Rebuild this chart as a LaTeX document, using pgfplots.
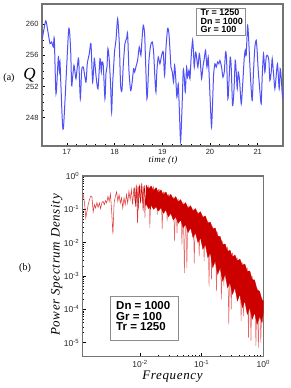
\documentclass[border=0pt]{standalone}
\usepackage{pgfplots}
\pgfplotsset{compat=1.18}
\usepackage{fontspec}
\setmainfont{Liberation Sans}
\newfontfamily\tms{Liberation Serif}
\newfontfamily\tmsls[LetterSpace=5]{Liberation Serif}
\definecolor{qblue}{RGB}{80,80,248}
\definecolor{darkred}{RGB}{205,0,0}
\definecolor{spikered}{RGB}{230,100,100}
\definecolor{lowred}{RGB}{222,60,60}
\begin{document}
\begin{tikzpicture}[x=1pt,y=1pt]
\useasboundingbox (0,0) rectangle (291,388);
% ---------------- (a) time series ----------------
\begin{axis}[at={(42pt,242pt)}, anchor=south west, scale only axis,
  width=241pt, height=142pt,
  xmin=16.48, xmax=21.53, ymin=244.35, ymax=262.6,
  xtick={17,18,19,20,21}, ytick={248,252,256,260},
  minor x tick num=4, minor y tick num=3,
  tick align=inside, tick pos=left,
  axis line style={draw=black!55, line width=1.1pt},
  major tick length=3pt, minor tick length=1.6pt,
  every tick/.style={black, line width=0.5pt},
  tick label style={font=\fontsize{7.5}{8}\selectfont, text=black!85},
  /pgf/number format/assume math mode=true]
\addplot[color=qblue, line width=1pt, smooth, tension=0.4] coordinates {
(16.487,258.15)(16.557,260.43)(16.599,259.23)(16.648,257.51)(16.682,257.72)(16.717,257.08)
(16.738,258.15)(16.773,251.05)(16.822,255.78)(16.843,254.06)(16.857,255.14)(16.878,251.91)
(16.927,246.54)(17.038,259.23)(17.080,256.65)(17.101,252.13)(17.122,253.20)(17.150,254.71)
(17.171,253.85)(17.192,252.99)(17.220,254.49)(17.248,255.57)(17.283,250.41)(17.311,254.06)
(17.346,254.49)(17.401,252.56)(17.429,254.92)(17.471,256.22)(17.506,257.51)(17.541,252.56)
(17.576,255.57)(17.611,253.42)(17.653,251.70)(17.695,255.57)(17.723,253.85)(17.737,255.14)
(17.764,254.71)(17.799,250.41)(17.820,253.63)(17.841,254.49)(17.862,256.86)(17.890,255.35)
(17.918,252.13)(17.939,248.69)(17.960,252.34)(17.981,254.49)(18.002,256.65)(18.030,257.94)
(18.065,260.73)(18.100,257.51)(18.127,252.13)(18.155,251.48)(18.183,254.71)(18.218,257.51)
(18.253,258.15)(18.274,258.80)(18.302,254.06)(18.337,251.48)(18.365,252.34)(18.400,254.28)
(18.421,253.85)(18.456,254.71)(18.484,255.35)(18.518,257.08)(18.553,256.00)(18.574,257.94)
(18.602,259.87)(18.630,258.80)(18.651,255.14)(18.679,250.41)(18.700,252.34)(18.721,255.35)
(18.756,257.29)(18.791,257.72)(18.819,256.43)(18.847,252.99)(18.868,251.27)(18.888,254.06)
(18.916,255.78)(18.951,254.92)(18.986,256.00)(19.021,256.43)(19.049,253.42)(19.077,256.86)
(19.112,259.44)(19.140,258.80)(19.168,256.00)(19.182,254.49)(19.210,253.85)(19.237,252.56)
(19.258,254.71)(19.279,253.42)(19.307,250.62)(19.335,252.34)(19.356,249.33)(19.384,244.95)
(19.412,248.90)(19.440,254.06)(19.461,253.20)(19.482,251.27)(19.510,254.49)(19.531,253.20)
(19.559,254.06)(19.580,252.99)(19.608,256.00)(19.636,257.94)(19.656,256.22)(19.670,254.49)
(19.698,256.43)(19.719,255.78)(19.747,254.49)(19.775,256.22)(19.796,255.35)(19.824,252.99)
(19.852,254.49)(19.880,255.57)(19.908,256.65)(19.936,254.49)(19.963,255.78)(19.984,253.20)
(20.012,249.12)(20.033,246.75)(20.054,249.76)(20.075,253.42)(20.103,254.92)(20.131,254.49)
(20.159,255.14)(20.187,254.92)(20.208,255.35)(20.243,254.49)(20.271,253.20)(20.299,253.85)
(20.327,256.43)(20.347,255.57)(20.375,250.41)(20.396,252.34)(20.424,255.78)(20.445,254.49)
(20.473,249.55)(20.501,251.27)(20.529,255.35)(20.550,253.85)(20.571,251.70)(20.592,253.85)
(20.620,252.77)(20.655,249.76)(20.690,252.77)(20.717,255.57)(20.738,256.65)(20.759,256.00)
(20.787,259.87)(20.808,258.37)(20.836,254.71)(20.857,252.34)(20.885,250.19)(20.913,254.06)
(20.941,257.08)(20.969,257.94)(20.990,256.43)(21.011,254.06)(21.039,251.91)(21.073,249.76)
(21.094,253.20)(21.122,256.22)(21.150,253.85)(21.178,255.78)(21.206,256.00)(21.234,255.35)
(21.255,252.77)(21.283,253.85)(21.304,255.57)(21.332,253.63)(21.360,251.70)(21.388,253.42)
(21.415,254.92)(21.450,251.70)(21.471,254.28)(21.492,253.20)(21.520,250.62)(21.541,251.91)
};
\end{axis}
% ---------------- (b) power spectrum ----------------
\begin{axis}[at={(82.7pt,31.3pt)}, anchor=south west, scale only axis,
  width=180.6pt, height=180.7pt,
  xmode=log, ymode=log,
  xmin=1.175e-3, xmax=1, ymin=3.8e-6, ymax=1,
  xtick={0.01,0.1,1},
  xticklabels={10\textsuperscript{-2},10\textsuperscript{-1},10\textsuperscript{0}},
  ytick={1e-5,1e-4,1e-3,1e-2,1e-1,1},
  yticklabels={10\textsuperscript{-5},10\textsuperscript{-4},10\textsuperscript{-3},10\textsuperscript{-2},10\textsuperscript{-1},10\textsuperscript{0}},
  tick align=inside, tick pos=left,
  axis line style={draw=black!55, line width=1.1pt},
  major tick length=3.5pt, minor tick length=1.8pt,
  every tick/.style={black, line width=0.5pt},
  tick label style={font=\fontsize{8.5}{9}\selectfont, text=black!85}]
% low-frequency part
\addplot[color=lowred, line width=0.55pt] coordinates {
(1.148e-3,0.2512)(1.202e-3,0.2754)(1.259e-3,0.1549)(1.318e-3,0.05495)(1.380e-3,0.0871)
(1.445e-3,0.1413)(1.514e-3,0.195)(1.585e-3,0.2512)(1.660e-3,0.2399)(1.738e-3,0.08318)
(1.820e-3,0.138)(1.905e-3,0.1096)(1.995e-3,0.1585)(2.089e-3,0.1148)(2.188e-3,0.1549)
(2.291e-3,0.1047)(2.399e-3,0.1585)(2.512e-3,0.1738)(2.630e-3,0.138)(2.754e-3,0.182)
(2.884e-3,0.1549)(3.020e-3,0.2455)(3.162e-3,0.1738)(3.311e-3,0.2884)(3.467e-3,0.0871)
(3.631e-3,0.0182)(3.802e-3,0.1585)(3.981e-3,0.2455)(4.169e-3,0.3311)(4.365e-3,0.1738)
(4.571e-3,0.2754)(4.786e-3,0.1549)(5.012e-3,0.2188)(5.248e-3,0.1096)(5.495e-3,0.2188)
(5.754e-3,0.138)(6.026e-3,0.2754)(6.310e-3,0.1549)(6.607e-3,0.3467)(6.918e-3,0.195)
(7.244e-3,0.389)(7.586e-3,0.138)(7.943e-3,0.4365)(8.318e-3,0.1738)(8.710e-3,0.5495)
(9.120e-3,0.0389)(9.550e-3,0.4898)(1.000e-2,0.2188)
};
% spikes over the whole range
\addplot[color=spikered, line width=0.5pt] coordinates {
(1.000e-2,0.2188)
(1.047e-2,0.6166)(1.096e-2,0.1738)(1.148e-2,0.4898)(1.202e-2,0.05495)(1.259e-2,0.5495)
(1.318e-2,0.1778)(1.380e-2,0.5248)(1.445e-2,0.02754)(1.514e-2,0.4786)(1.585e-2,0.1413)
(1.660e-2,0.5012)(1.738e-2,0.1122)(1.820e-2,0.4365)(1.905e-2,0.06918)(1.995e-2,0.3981)
(2.089e-2,0.1259)(2.188e-2,0.3802)(2.291e-2,0.02512)(2.399e-2,0.3388)(2.512e-2,0.1)
(2.630e-2,0.3162)(2.754e-2,0.04365)(2.884e-2,0.2818)(3.020e-2,0.07943)(3.162e-2,0.263)
(3.311e-2,0.0631)(3.467e-2,0.2399)(3.631e-2,0.01122)(3.802e-2,0.2291)(3.981e-2,0.0195)
(4.169e-2,0.2089)(4.365e-2,0.05012)(4.571e-2,0.182)(4.786e-2,0.00871)(5.012e-2,0.166)
(5.248e-2,1.230e-3)(5.495e-2,0.1514)(5.754e-2,1.738e-3)(6.026e-2,0.1318)(6.310e-2,0.02512)
(6.607e-2,0.1175)(6.918e-2,0.02818)(7.244e-2,0.1072)(7.586e-2,2.455e-3)(7.943e-2,0.0955)
(8.318e-2,0.01995)(8.710e-2,0.0871)(9.120e-2,3.890e-3)(9.550e-2,0.07586)(0.1000,0.01259)
(0.1047,0.06607)(0.1096,2.754e-3)(0.1148,0.05495)(0.1202,7.943e-3)(0.1259,0.04677)
(0.1318,4.898e-4)(0.1380,0.03802)(0.1445,7.943e-4)(0.1514,0.03162)(0.1585,3.981e-3)
(0.1660,0.0263)(0.1738,3.548e-4)(0.1820,0.02089)(0.1905,2.512e-3)(0.1995,0.01585)
(0.2089,1.995e-4)(0.2188,0.01122)(0.2291,5.012e-4)(0.2399,8.913e-3)(0.2512,1.0e-3)
(0.2630,7.586e-3)(0.2754,3.548e-5)(0.2884,6.026e-3)(0.3020,1.0e-4)(0.3162,5.012e-3)
(0.3311,3.981e-4)(0.3467,4.169e-3)(0.3631,3.162e-4)(0.3802,3.548e-3)(0.3981,2.512e-4)
(0.4169,2.818e-3)(0.4365,4.467e-5)(0.4571,2.512e-3)(0.4786,6.310e-5)(0.5012,2.239e-3)
(0.5248,1.585e-4)(0.5495,1.778e-3)(0.5754,1.413e-5)(0.6026,1.413e-3)(0.6310,1.122e-5)
(0.6607,1.0e-3)(0.6918,7.943e-5)(0.7244,7.943e-4)(0.7586,7.943e-6)(0.7943,4.467e-4)
(0.8318,7.079e-6)(0.8710,3.162e-4)(0.9120,1.0e-5)(0.9550,2.239e-4)(1.0,5.012e-5)
};
% dense dark lines near 10^-2
\addplot[color=darkred, line width=0.5pt] coordinates {
(8.128e-3,0.45)(8.511e-3,0.12)(8.913e-3,0.5)(9.333e-3,0.1)(9.772e-3,0.55)(1.023e-2,0.15)
(1.072e-2,0.58)(1.122e-2,0.09)(1.175e-2,0.52)(1.230e-2,0.13)(1.288e-2,0.5)(1.349e-2,0.16)
(1.413e-2,0.45)(1.479e-2,0.1)(1.549e-2,0.47)(1.622e-2,0.14)(1.698e-2,0.42)(1.778e-2,0.12)
(1.862e-2,0.44)(1.950e-2,0.09)(2.042e-2,0.4)(2.138e-2,0.11)(2.239e-2,0.36)(2.344e-2,0.08)
(2.455e-2,0.33)(2.570e-2,0.1)(2.692e-2,0.3)(2.818e-2,0.07)(2.951e-2,0.28)
};
% dark main body of the spectrum
\addplot[fill=darkred, draw=darkred, line width=0.3pt] coordinates {
(0.01259,0.5248)(0.0138,0.3981)(0.01514,0.5012)(0.0166,0.3548)(0.0182,0.4467)
(0.01995,0.302)(0.02188,0.3802)(0.02399,0.263)(0.0263,0.3311)(0.02884,0.2291)
(0.03162,0.2818)(0.03467,0.1995)(0.03802,0.2399)(0.04169,0.166)(0.04571,0.195)
(0.05012,0.1349)(0.05495,0.1585)(0.06026,0.1072)(0.06607,0.1288)(0.07244,0.08913)
(0.07943,0.1047)(0.0871,0.07244)(0.0955,0.08511)(0.1047,0.05754)(0.1148,0.0631)
(0.1259,0.0389)(0.138,0.04169)(0.1514,0.0263)(0.166,0.02754)(0.182,0.01585)
(0.1995,0.01514)(0.2188,8.913e-3)(0.2399,9.12e-3)(0.263,5.495e-3)(0.2884,5.888e-3)
(0.3162,3.715e-3)(0.3467,4.266e-3)(0.3802,2.818e-3)(0.4169,3.236e-3)(0.4571,2.089e-3)
(0.5012,2.291e-3)(0.5495,1.380e-3)(0.6026,1.413e-3)(0.6607,7.943e-4)(0.7244,7.413e-4)
(0.7943,3.890e-4)(0.871,3.467e-4)(0.955,1.905e-4)(1.0,1.778e-4)
(1.0,7.943e-5)(0.955,3.981e-5)(0.871,6.31e-5)(0.7943,3.548e-5)(0.7244,7.943e-5)
(0.6607,5.012e-5)(0.6026,1.122e-4)(0.5495,7.079e-5)(0.5012,1.778e-4)(0.4571,1.122e-4)
(0.4169,2.818e-4)(0.3802,1.778e-4)(0.3467,4.467e-4)(0.3162,2.818e-4)(0.2884,6.31e-4)
(0.263,4.467e-4)(0.2399,1.122e-3)(0.2188,7.079e-4)(0.1995,1.778e-3)(0.182,1.122e-3)
(0.166,2.818e-3)(0.1514,1.778e-3)(0.138,5.012e-3)(0.1259,3.548e-3)(0.1148,8.913e-3)
(0.1047,6.31e-3)(0.0955,0.01413)(0.0871,0.01)(0.07943,0.01995)(0.07244,0.01413)
(0.06607,0.02818)(0.06026,0.01995)(0.05495,0.03548)(0.05012,0.02818)(0.04571,0.04786)
(0.04169,0.03802)(0.03802,0.06026)(0.03467,0.04786)(0.03162,0.07586)(0.02884,0.06026)
(0.0263,0.0955)(0.02399,0.07586)(0.02188,0.1122)(0.01995,0.08913)(0.0182,0.1202)
(0.0166,0.1)(0.01514,0.1318)(0.0138,0.1047)(0.01259,0.1413)
} -- cycle;
\end{axis}
% ---------------- labels ----------------
\node[font=\fontsize{10}{10}\selectfont\tms] at (9,310) {(a)};
\node[font=\fontsize{17}{17}\selectfont\tms\itshape] at (29.5,313) {Q};
\node[font=\fontsize{9}{9}\selectfont\tmsls\itshape] at (163,228) {time (t)};
\node[font=\fontsize{10}{10}\selectfont\tms] at (25,120) {(b)};
\node[rotate=90, font=\fontsize{13}{13}\selectfont\tmsls\itshape] at (56.7,123) {Power Spectrum Density};
\node[font=\fontsize{13}{13}\selectfont\tmsls\itshape] at (172.5,11.5) {Frequency};
% legend boxes
\draw[black!45, fill=white, line width=0.6pt] (196.7,353) rectangle (245,379.7);
\node[anchor=base west, inner sep=0pt, font=\fontsize{9}{9}\selectfont\bfseries] at (200.5,372) {Tr = 1250};
\node[anchor=base west, inner sep=0pt, font=\fontsize{9}{9}\selectfont\bfseries] at (200.5,363.7) {Dn = 1000};
\node[anchor=base west, inner sep=0pt, font=\fontsize{9}{9}\selectfont\bfseries] at (200.5,355.7) {Gr = 100};
\draw[black!45, fill=white, line width=0.6pt] (110.7,48) rectangle (178.3,92);
\node[anchor=base west, inner sep=0pt, font=\fontsize{11.5}{11.5}\selectfont\bfseries] at (116,78.7) {Dn = 1000};
\node[anchor=base west, inner sep=0pt, font=\fontsize{11.5}{11.5}\selectfont\bfseries] at (116,67.3) {Gr = 100};
\node[anchor=base west, inner sep=0pt, font=\fontsize{11.5}{11.5}\selectfont\bfseries] at (116,57.3) {Tr = 1250};
\end{tikzpicture}
\end{document}
